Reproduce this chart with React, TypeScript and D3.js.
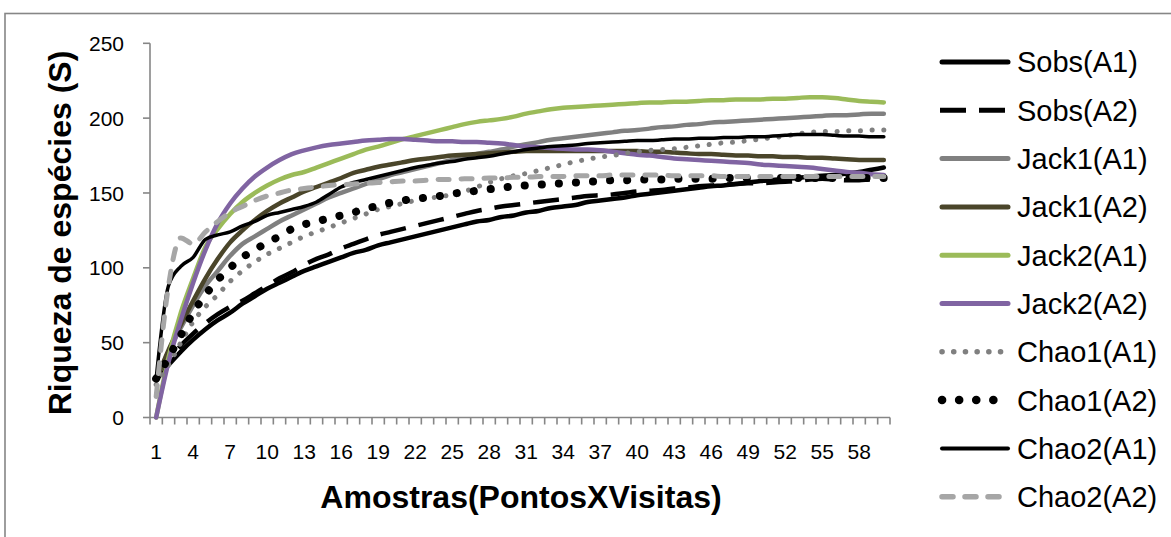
import React from "react";
import * as d3 from "d3";

const categories = [1,2,3,4,5,6,7,8,9,10,11,12,13,14,15,16,17,18,19,20,21,22,23,24,25,26,27,28,29,30,31,32,33,34,35,36,37,38,39,40,41,42,43,44,45,46,47,48,49,50,51,52,53,54,55,56,57,58,59,60];
const xTickLabels = [1,4,7,10,13,16,19,22,25,28,31,34,37,40,43,46,49,52,55,58];
const yTicks = [0,50,100,150,200,250];

const sobsA1 = [25,35,44,52,59,65,70,76,81,86,90,94,98,101,104,107,110,112,115,117,119,121,123,125,127,129,131,132,134,135,137,138,140,141,142,144,145,146,147,148.5,149.5,150.5,151.5,152.5,153.5,154.5,155,156,157,158,158.7,159.5,160,161,161.5,162,163,164,165.5,167];
const sobsA2 = [25,38,48,56,63,69,74,78,83,88,93,97,102,106,109,113,116,119,122,124,126,128,130,132,134,136,138,139.5,141,142,143,144,145,146,147,148,148.5,149,150,151,151.5,152,153,153.5,154.5,155,155.5,156,156.5,156.5,157,157.5,158,159,159.5,159,158.5,158.5,159,159];
const jack1A1 = [25,44,60,75,88,98,108,116,121,126,131,135,139,143,147,150,153,156,159,162,164,166,168,170,172,174,176,177.5,179,181,182.5,184,185.5,186.5,187.5,188.5,189.5,190.5,191.5,192,193,194,194.5,195.5,196,197,197.5,198,198.5,199,199.5,200,200.5,201,201.5,202,202,202.5,203,203];
const jack1A2 = [25,45,62,78,93,106,117,125,132,138,143,147,151,154,157,160,163.5,165.5,167.5,169,170.5,172,173,174,175,175.5,176,176.5,177,177.5,178,178,178,178,178,178,178,178,178,178,177.5,177.5,177,176.5,176,176,175.5,175,175,174.5,174.5,174,174,173.5,173.5,173,172.5,172,172,172];
const jack2A1 = [0,40,70,93,114,126,136,144,150,155,159,162,164,167,170,173,176,179,181,183.5,186,188,190,192,194,196,197.5,198.5,199.5,201,203,204.5,206,207,207.5,208,208.5,209,209.5,210,210.5,210.5,211,211,211.5,212,212,212.5,212.5,212.5,213,213,213.5,214,214,213.5,212.5,211.5,211,210.5];
const jack2A2 = [0,37,65,90,112,130,143,153,161,167,172,176,178.5,180.5,182,183,184,185,185.5,186,186,185.5,185,184.5,184.5,184,184,183.5,183,182,181,180.5,180,179.5,179,179,178.5,177.5,176.5,175.5,175,174,173,172.5,172,171.5,171,170.5,170,169,168.5,168,167.5,167,166,165,164,163.5,162.5,162];
const chao1A1 = [22,35,50,64,74,82,91,98,104,109,113,117,121,124,127,130,133,136,139,141,143,145,146.5,147.5,149,151,154,157,159.5,161.5,163,165,167,169,171,172.5,174,175,176.5,177.5,178.5,179,179.5,180.5,181.5,182.5,183.5,184,185,186,187,188,189.5,190.5,191,191,191.5,191.5,192,192];
const chao1A2 = [26,40,55,70,82,92,100,107,112,117,121,126,129,131,133,135,137,139.5,141.5,143.5,145,146,147,148,149.5,150.5,151.5,152.5,153.5,154.5,155,155.5,156,156.5,157,157.5,158,158.5,158.5,159,159,159,159.5,159.5,159.5,159.5,160,160,160,160,160,160,160,160,160,160,160,160,160,160];
const chao2A1 = [26,88,101,107,119,122,124,128,131,135,137,139,141,144,149,154,157,159,161,163,165,167,168.5,170,171,172.5,173.5,174.5,176,177.5,179,180,181,181.5,182,183,183.5,184,184.5,185,185,185.5,186,186,186.5,186.5,187,187,187.5,187.5,188,188.5,189,189,189,188.5,188,188,187.5,187.5];
const chao2A2 = [14,88,120,116,124,131,137,141,145,148,150,152,153,154,155,155.5,156,156.5,157,157.5,158,158,158.5,159,159,159.5,159.5,160,160,160.5,160.5,161,161,161,161.5,161.5,161.5,162,162,162,162,162,161.5,161.5,161.5,161.5,161,161,161,161,161,161,161,161,161,161,161,161,161,161];

const seriesNames = ["Sobs(A1)","Sobs(A2)","Jack1(A1)","Jack1(A2)","Jack2(A1)","Jack2(A2)","Chao1(A1)","Chao1(A2)","Chao2(A1)","Chao2(A2)"];
const seriesValues = [sobsA1,sobsA2,jack1A1,jack1A2,jack2A1,jack2A2,chao1A1,chao1A2,chao2A1,chao2A2];

type Style = { color: string; width: number; dash?: string; cap: "round" | "butt" };
const styles: Style[] = [
  { color: "#000000", width: 4.5, cap: "round" },
  { color: "#000000", width: 4.5, dash: "26 13", cap: "butt" },
  { color: "#808080", width: 4.5, cap: "round" },
  { color: "#4a452a", width: 4.5, cap: "round" },
  { color: "#9bbb59", width: 4.5, cap: "round" },
  { color: "#8064a2", width: 4.5, cap: "round" },
  { color: "#808080", width: 5, dash: "0.1 11.6", cap: "round" },
  { color: "#000000", width: 8, dash: "0.1 17", cap: "round" },
  { color: "#000000", width: 3.5, cap: "round" },
  { color: "#a6a6a6", width: 5, dash: "11 12", cap: "round" },
];

const FONT = "'Liberation Sans', Arial, sans-serif";

export default function App() {
  const x = d3.scaleBand<number>().domain(categories).range([150, 890]).paddingInner(0).paddingOuter(0);
  const y = d3.scaleLinear().domain([0, 250]).range([417.5, 43.3]);
  const bw = x.bandwidth();
  const cx = (c: number) => (x(c) as number) + bw / 2;
  const line = d3
    .line<number>()
    .x((_, i) => cx(categories[i]))
    .y((v) => y(v))
    .curve(d3.curveMonotoneX);

  const axisColor = "#868686";
  const boundaries = [...categories.map((c) => x(c) as number), 890];

  const legendX1 = 940;
  const legendX2 = 1010;
  const legendY0 = 62;
  const legendStep = 48.3;

  return (
    <svg width={1171} height={537} style={{ position: "absolute", left: 0, top: 0, background: "#fff" }}>
      <rect x={5} y={13.5} width={1300} height={700} fill="#fff" stroke={axisColor} strokeWidth={1.6} />
      {/* Y axis */}
      <line x1={150} x2={150} y1={y(250)} y2={y(0)} stroke={axisColor} strokeWidth={1.6} />
      {yTicks.map((t) => (
        <g key={t}>
          <line x1={143} x2={150} y1={y(t)} y2={y(t)} stroke={axisColor} strokeWidth={1.6} />
          <text x={124} y={y(t)} dy="0.36em" textAnchor="end" fontFamily={FONT} fontSize={21} fill="#000">
            {t}
          </text>
        </g>
      ))}
      {/* X axis */}
      <line x1={150} x2={890} y1={y(0)} y2={y(0)} stroke={axisColor} strokeWidth={1.6} />
      {boundaries.map((b, i) => (
        <line key={i} x1={b} x2={b} y1={y(0)} y2={y(0) + 7} stroke={axisColor} strokeWidth={1.6} />
      ))}
      {xTickLabels.map((c) => (
        <text key={c} x={cx(c)} y={459} textAnchor="middle" fontFamily={FONT} fontSize={21} fill="#000">
          {c}
        </text>
      ))}
      {/* Lines */}
      {seriesValues.map((vals, i) => (
        <path
          key={seriesNames[i]}
          d={line(vals) || ""}
          fill="none"
          stroke={styles[i].color}
          strokeWidth={styles[i].width}
          strokeDasharray={styles[i].dash}
          strokeLinecap={styles[i].cap}
          strokeLinejoin="round"
        />
      ))}
      {/* Axis titles */}
      <text
        transform={`translate(71, 233) rotate(-90)`}
        textAnchor="middle"
        fontFamily={FONT}
        fontWeight="bold"
        fontSize={32}
        fill="#000"
      >
        Riqueza de espécies (S)
      </text>
      <text x={521} y={508} textAnchor="middle" fontFamily={FONT} fontWeight="bold" fontSize={32} fill="#000">
        Amostras(PontosXVisitas)
      </text>
      {/* Legend */}
      {seriesNames.map((name, i) => {
        const ly = legendY0 + i * legendStep;
        const s = styles[i];
        return (
          <g key={name}>
            <line
              x1={legendX1 + (s.cap === "round" ? 2 : 0)}
              x2={legendX2 - (s.cap === "round" ? 2 : 0)}
              y1={ly}
              y2={ly}
              stroke={s.color}
              strokeWidth={s.width + 0.5}
              strokeDasharray={s.dash}
              strokeLinecap={s.cap}
            />
            <text x={1017} y={ly} dy="0.36em" fontFamily={FONT} fontSize={29} fill="#000">
              {name}
            </text>
          </g>
        );
      })}
    </svg>
  );
}
